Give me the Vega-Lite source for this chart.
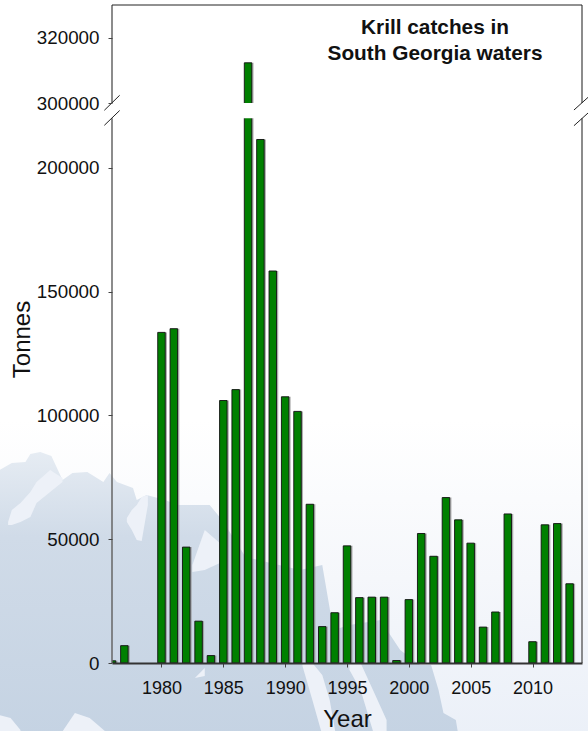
{
"$schema":"https://vega.github.io/schema/vega-lite/v6.json",
"width":470,"height":658,
"autosize":{"type":"none"},
"padding":{"left":112,"top":5,"right":6,"bottom":68},
"background":"white",
"view":{"stroke":null},
"title":{"text":["Krill catches in","South Georgia waters"],"font":"Liberation Sans","fontSize":20.8,"fontWeight":"bold","color":"#111","anchor":"middle","dx":88,"dy":77,"lineHeight":26,"offset":0,"baseline":"alphabetic"},
"datasets":{
"bars":[
{"year":1976,"tonnes":900},{"year":1977,"tonnes":7000},{"year":1980,"tonnes":133500},{"year":1981,"tonnes":135000},{"year":1982,"tonnes":46800},{"year":1983,"tonnes":16900},{"year":1984,"tonnes":3000},{"year":1985,"tonnes":106000},{"year":1986,"tonnes":110400},{"year":1987,"tonnes":312300},{"year":1988,"tonnes":211400},{"year":1989,"tonnes":158300},{"year":1990,"tonnes":107500},{"year":1991,"tonnes":101600},{"year":1992,"tonnes":64100},{"year":1993,"tonnes":14700},{"year":1994,"tonnes":20300},{"year":1995,"tonnes":47300},{"year":1996,"tonnes":26400},{"year":1997,"tonnes":26600},{"year":1998,"tonnes":26600},{"year":1999,"tonnes":1000},{"year":2000,"tonnes":25600},{"year":2001,"tonnes":52300},{"year":2002,"tonnes":43100},{"year":2003,"tonnes":66800},{"year":2004,"tonnes":57800},{"year":2005,"tonnes":48400},{"year":2006,"tonnes":14500},{"year":2007,"tonnes":20600},{"year":2008,"tonnes":60200},{"year":2010,"tonnes":8600},{"year":2011,"tonnes":55800},{"year":2012,"tonnes":56300},{"year":2013,"tonnes":32000}
],
"sea":[{"year":1966,"year2":2016,"tonnes":98120,"tonnes2":-29074}],
"land":[
{"year":1966.9,"tonnes":77930,"tonnes2":-29074},{"year":1967.9,"tonnes":80760,"tonnes2":-29074},{"year":1969.0,"tonnes":81160,"tonnes2":-29074},{"year":1969.4,"tonnes":84390,"tonnes2":-29074},{"year":1970.2,"tonnes":85200,"tonnes2":-29074},{"year":1971.1,"tonnes":83590,"tonnes2":-29074},{"year":1972.0,"tonnes":73900,"tonnes2":-29074},{"year":1972.8,"tonnes":76720,"tonnes2":-29074},{"year":1974.0,"tonnes":77130,"tonnes2":-29074},{"year":1975.3,"tonnes":73090,"tonnes2":-29074},{"year":1975.8,"tonnes":76720,"tonnes2":-29074},{"year":1976.4,"tonnes":73090,"tonnes2":-29074},{"year":1977.7,"tonnes":70670,"tonnes2":-29074},{"year":1978.0,"tonnes":65820,"tonnes2":-29074},{"year":1978.8,"tonnes":67840,"tonnes2":-29074},{"year":1980.3,"tonnes":65820,"tonnes2":-29074},{"year":1981.3,"tonnes":63800,"tonnes2":-29074},{"year":1983.9,"tonnes":63800,"tonnes2":-29074},{"year":1984.9,"tonnes":57740,"tonnes2":-29074},{"year":1986.8,"tonnes":42800,"tonnes2":-29074},{"year":1991.2,"tonnes":37550,"tonnes2":-29074},{"year":1993.0,"tonnes":39570,"tonnes2":-29074},{"year":1993.9,"tonnes":13330,"tonnes2":-29074},{"year":1995.2,"tonnes":15340,"tonnes2":-29074},{"year":1997.7,"tonnes":17360,"tonnes2":-29074},{"year":1998.5,"tonnes":11310,"tonnes2":-29074},{"year":1999.3,"tonnes":5250,"tonnes2":-29074},{"year":2000.9,"tonnes":-808,"tonnes2":-29074},{"year":2001.8,"tonnes":-808,"tonnes2":-29074},{"year":2002.4,"tonnes":-10900,"tonnes2":-29074},{"year":2002.8,"tonnes":-20190,"tonnes2":-29074},{"year":2003.8,"tonnes":-23020,"tonnes2":-29074},{"year":2004.0,"tonnes":-29074,"tonnes2":-29074}
],
"gaps":[
{"shape":"A","year":1967.6,"tonnes":56930,"tonnes2":55720},{"shape":"A","year":1967.9,"tonnes":61780,"tonnes2":55720},{"shape":"A","year":1968.6,"tonnes":64610,"tonnes2":56930},{"shape":"A","year":1969.4,"tonnes":69050,"tonnes2":58950},{"shape":"A","year":1969.9,"tonnes":73090,"tonnes2":64610},{"shape":"A","year":1971.0,"tonnes":77930,"tonnes2":69050},{"shape":"A","year":1972.0,"tonnes":74700,"tonnes2":73090},
{"shape":"B","year":1977.2,"tonnes":58550,"tonnes2":56930},{"shape":"B","year":1977.6,"tonnes":61780,"tonnes2":53700},{"shape":"B","year":1978.0,"tonnes":63800,"tonnes2":49670},{"shape":"B","year":1978.4,"tonnes":67030,"tonnes2":49260},{"shape":"B","year":1978.9,"tonnes":67840,"tonnes2":63800},
{"shape":"C","year":1982.5,"tonnes":39570,"tonnes2":36750},{"shape":"C","year":1983.5,"tonnes":53700,"tonnes2":37550},{"shape":"C","year":1984.9,"tonnes":47650,"tonnes2":40780},
{"shape":"D","year":1966.9,"tonnes":-21000,"tonnes2":-29074},{"shape":"D","year":1967.8,"tonnes":-22200,"tonnes2":-29074},{"shape":"D","year":1968.6,"tonnes":-27050,"tonnes2":-29074},
{"shape":"E","year":1971.8,"tonnes":-29074,"tonnes2":-29074},{"shape":"E","year":1973.0,"tonnes":-20190,"tonnes2":-29074},{"shape":"E","year":1974.2,"tonnes":-22200,"tonnes2":-29074},{"shape":"E","year":1975.8,"tonnes":-29074,"tonnes2":-29074},
{"shape":"F","year":1982.7,"tonnes":-6057,"tonnes2":-6057},{"shape":"F","year":1983.5,"tonnes":-2019,"tonnes2":-5250},
{"shape":"G","year":1991.4,"tonnes":0,"tonnes2":-1211},{"shape":"G","year":1992.2,"tonnes":0,"tonnes2":-14940},{"shape":"G","year":1993.0,"tonnes":-4846,"tonnes2":-29074},{"shape":"G","year":1993.6,"tonnes":-14940,"tonnes2":-29074},{"shape":"G","year":1994.1,"tonnes":-29074,"tonnes2":-29074},
{"shape":"H","year":1995.2,"tonnes":0,"tonnes2":-2827},{"shape":"H","year":1996.1,"tonnes":0,"tonnes2":-10900},{"shape":"H","year":1997.1,"tonnes":-10900,"tonnes2":-27460},{"shape":"H","year":1998.2,"tonnes":-23000,"tonnes2":-29074}
],
"band":[{"year":1975,"year2":2015,"tonnes":220000,"tonnes2":300000}],
"sides":[
{"year":1976,"year2":1976,"tonnes":0,"tonnes2":220000},{"year":1976,"year2":1976,"tonnes":300000,"tonnes2":330000},
{"year":2014,"year2":2014,"tonnes":0,"tonnes2":220000},{"year":2014,"year2":2014,"tonnes":300000,"tonnes2":330000}
],
"top":[{"year":1976,"year2":2014,"tonnes":330000,"tonnes2":330000}],
"breaks":[
{"year":1975.38,"year2":1976.62,"tonnes":261580,"tonnes2":302360},{"year":1975.38,"year2":1976.62,"tonnes":217120,"tonnes2":260525},
{"year":2013.35,"year2":2014.65,"tonnes":263150,"tonnes2":302290},{"year":2013.35,"year2":2014.65,"tonnes":216970,"tonnes2":256840}
]
},
"encoding":{
"x":{"field":"year","type":"quantitative","title":"Year",
"scale":{"domain":[1976,2014],"nice":false,"zero":false,"padding":0},
"axis":{"values":[1980,1985,1990,1995,2000,2005,2010],"format":"d","zindex":1,"grid":false,"domainColor":"#333","domainWidth":2,"tickColor":"#444","tickSize":4,"labelFont":"Liberation Sans","labelFontSize":18,"labelColor":"#111","labelPadding":12,"labelOverlap":false,"titleFont":"Liberation Sans","titleFontSize":24,"titleFontWeight":"normal","titleColor":"#111","titleX":235,"titleY":63,"titleBaseline":"alphabetic"}},
"y":{"field":"tonnes","type":"quantitative","title":"Tonnes",
"scale":{"domain":[0,220000,300000,330000],"range":[658,113.2,98,0],"nice":false,"zero":false},
"axis":{"values":[0,50000,100000,150000,200000,300000,320000],"format":"d","zindex":1,"grid":false,"domain":false,"tickColor":"#444","tickSize":4,"labelFont":"Liberation Sans","labelFontSize":18.8,"labelColor":"#111","labelPadding":9,"labelOverlap":false,"titleFont":"Liberation Sans","titleFontSize":24,"titleFontWeight":"normal","titleColor":"#111","titleX":-83,"titleY":334,"titleBaseline":"alphabetic"}}
},
"layer":[
{"data":{"name":"sea"},"mark":{"type":"rect","color":{"gradient":"linear","x1":0,"y1":0,"x2":0,"y2":1,"stops":[{"offset":0,"color":"#ffffff"},{"offset":0.5,"color":"#f5f7fb"},{"offset":1,"color":"#ebf0f8"}]}},"encoding":{"x2":{"field":"year2"},"y2":{"field":"tonnes2"}}},
{"data":{"name":"land"},"mark":{"type":"area","orient":"vertical","color":{"gradient":"linear","x1":0,"y1":0,"x2":0,"y2":1,"stops":[{"offset":0,"color":"#e6ecf3"},{"offset":0.3,"color":"#d0dbe8"},{"offset":1,"color":"#c5d3e3"}]}},"encoding":{"y2":{"field":"tonnes2"}}},
{"data":{"name":"gaps"},"mark":{"type":"area","orient":"vertical","color":"#edf1f8"},"encoding":{"y2":{"field":"tonnes2"},"detail":{"field":"shape"}}},
{"data":{"name":"bars"},"mark":{"type":"bar","orient":"vertical","size":8,"color":"#8f8f8f","opacity":0.7,"xOffset":1.5,"clip":true},"encoding":{"y2":{"datum":0}}},
{"data":{"name":"bars"},"mark":{"type":"bar","orient":"vertical","size":7.5,"color":"#008000","stroke":"#111","strokeWidth":0.9,"clip":true},"encoding":{"y2":{"datum":0}}},
{"data":{"name":"band"},"mark":{"type":"rect","color":"white"},"encoding":{"x2":{"field":"year2"},"y2":{"field":"tonnes2"}}},
{"data":{"name":"sides"},"mark":{"type":"rule","color":"#666","strokeWidth":1.5},"encoding":{"x2":{"field":"year2"},"y2":{"field":"tonnes2"}}},
{"data":{"name":"top"},"mark":{"type":"rule","color":"#222","strokeWidth":1},"encoding":{"x2":{"field":"year2"},"y2":{"field":"tonnes2"}}},
{"data":{"name":"breaks"},"mark":{"type":"rule","color":"#222","strokeWidth":1},"encoding":{"x2":{"field":"year2"},"y2":{"field":"tonnes2"}}}
]
}
